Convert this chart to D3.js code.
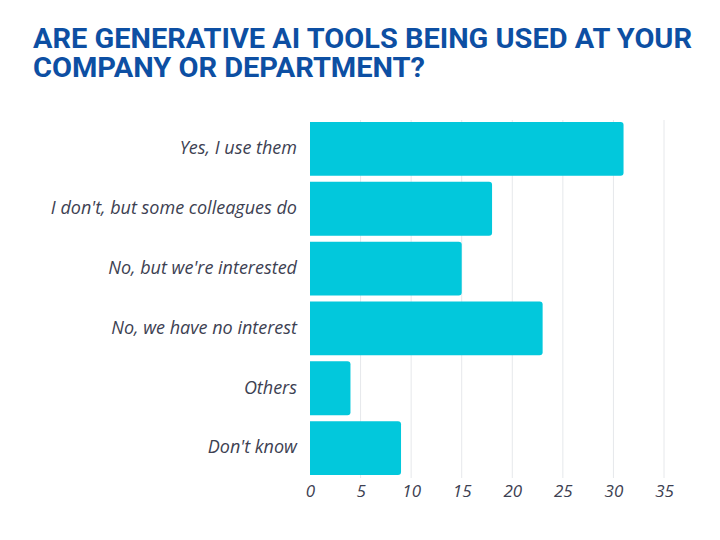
<!DOCTYPE html>
<meta charset="utf-8">
<script src="https://d3js.org/d3.v7.min.js"></script>
<style>
  body { margin: 0; background: #fff; }
</style>
<body>
<div id="chart"></div>
<script>
// data
var categories = ["Yes, I use them", "I don't, but some colleagues do", "No, but we're interested",
                  "No, we have no interest", "Others", "Don't know"];
var values = [31, 18, 15, 23, 4, 9];
var ticks = [0, 5, 10, 15, 20, 25, 30, 35];
var titleLines = ["ARE GENERATIVE AI TOOLS BEING USED AT YOUR", "COMPANY OR DEPARTMENT?"];

var W = 720, H = 540;
var svg = d3.select("#chart").append("svg")
  .attr("width", W).attr("height", H);

svg.append("rect").attr("width", W).attr("height", H).attr("fill", "#fff");

// title
var title = svg.append("g");
title.selectAll("text")
  .data(titleLines)
  .enter().append("text")
  .attr("x", 33)
  .attr("y", function(d, i) { return 48 + i * 29; })
  .attr("font-family", "Roboto, 'Open Sans', sans-serif")
  .attr("font-weight", 700)
  .attr("font-size", 27)
  .attr("fill", "#0d4fa3")
  .attr("textLength", function(d, i) { return i == 0 ? 659 : 392; })
  .attr("lengthAdjust", "spacingAndGlyphs")
  .text(function(d) { return d; });

var x = d3.scaleLinear().domain([0, 35]).range([310, 664]);
var y = d3.scaleBand().domain(categories).range([119, 478]).paddingInner(0.1).paddingOuter(0.05);

// grid
svg.append("g").selectAll("line")
  .data(ticks.slice(1))
  .enter().append("line")
  .attr("x1", function(d) { return x(d); })
  .attr("x2", function(d) { return x(d); })
  .attr("y1", 120).attr("y2", 478)
  .attr("stroke", "#e6e8eb")
  .attr("stroke-width", 1);

// bars: square left edge, rounded right corners
var r = 3;
svg.append("g").selectAll("path")
  .data(values)
  .enter().append("path")
  .attr("fill", "#02c8dc")
  .attr("d", function(d, i) {
    var x0 = x(0), x1 = x(d), y0 = y(categories[i]), h = y.bandwidth();
    return "M" + x0 + "," + y0 +
      "H" + (x1 - r) +
      "Q" + x1 + "," + y0 + " " + x1 + "," + (y0 + r) +
      "V" + (y0 + h - r) +
      "Q" + x1 + "," + (y0 + h) + " " + (x1 - r) + "," + (y0 + h) +
      "H" + x0 + "Z";
  });

// category labels
svg.append("g").selectAll("text")
  .data(categories)
  .enter().append("text")
  .attr("x", 297)
  .attr("y", function(d) { return y(d) + y.bandwidth() / 2; })
  .attr("dy", "0.3em")
  .attr("text-anchor", "end")
  .attr("font-family", "'Open Sans', sans-serif")
  .attr("font-style", "italic")
  .attr("font-size", 18)
  .attr("fill", "#3d4152")
  .text(function(d) { return d; });

// x axis
var xAxis = svg.append("g")
  .attr("transform", "translate(0,478)")
  .call(d3.axisBottom(x).tickValues(ticks).tickSize(0).tickPadding(7));
xAxis.select(".domain").remove();
xAxis.selectAll("text")
  .attr("font-family", "'Open Sans', sans-serif")
  .attr("font-style", "italic")
  .attr("font-size", 17)
  .attr("fill", "#3d4152");
</script>
</body>
